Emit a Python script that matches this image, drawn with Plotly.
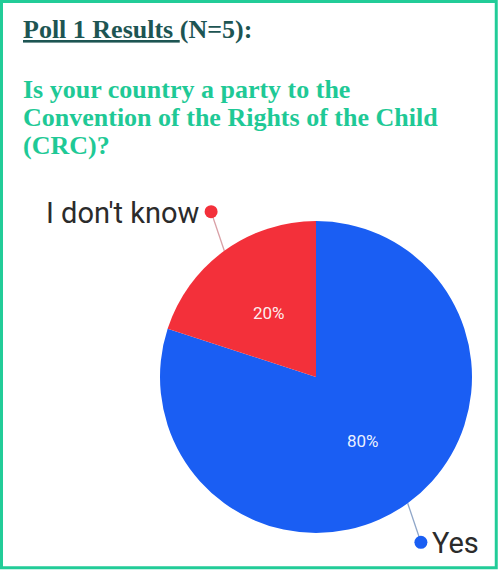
import math
import plotly.graph_objects as go

# Poll data
labels = ["Yes", "I don't know"]
values = [80, 20]
colors = ["#1a5ef3", "#f3303a"]
n_respondents = 5

title_text = "Poll 1 Results "
question_lines = [
    "Is your country a party to the",
    "Convention of the Rights of the Child",
    "(CRC)?",
]

W, H = 499, 570
# pie geometry in pixel space (x right, y down)
cx, cy, R = 316, 377, 156

fig = go.Figure()

fig.add_trace(go.Pie(
    labels=labels,
    values=values,
    sort=False,
    direction="clockwise",
    rotation=0,
    marker=dict(colors=colors, line=dict(width=0)),
    textinfo="none",
    hoverinfo="label+percent",
    showlegend=False,
    domain=dict(
        x=[(cx - R) / W, (cx + R) / W],
        y=[(H - cy - R) / H, (H - cy + R) / H],
    ),
))

# slice mid-angles (clockwise from 12 o'clock) from the data
total = sum(values)
mids, start = [], 0.0
for v in values:
    span = 360.0 * v / total
    mids.append(start + span / 2)
    start += span


def polar(angle_deg, r):
    a = math.radians(angle_deg)
    return cx + r * math.sin(a), cy - r * math.cos(a)


# percentage labels inside the slices
for v, m in zip(values, mids):
    x, y = polar(m, 0.51 * R)
    fig.add_annotation(
        x=x, y=y, xref="x", yref="y",
        text=f"{round(100 * v / total)}%", showarrow=False,
        xanchor="center", yanchor="middle",
        font=dict(family="Roboto", size=17, color="rgba(255,255,255,0.93)"),
    )

# leader lines with end dots and category labels
for lab, col, m in zip(labels, colors, mids):
    ex, ey = polar(m, R)
    # nudge the label angle toward the vertical axis
    ref = 0 if (m < 90 or m > 270) else 180
    dm = m - ref
    if dm > 180:
        dm -= 360
    la = ref + 0.9 * dm
    dx, dy = polar(la, 1.255 * R)
    fig.add_trace(go.Scatter(
        x=[ex, dx], y=[ey, dy], mode="lines",
        line=dict(color="#d9a0a6" if col == colors[1] else "#8fa6c8", width=1.3),
        hoverinfo="skip", showlegend=False,
    ))
    fig.add_trace(go.Scatter(
        x=[dx], y=[dy], mode="markers",
        marker=dict(color=col, size=13),
        hoverinfo="skip", showlegend=False,
    ))
    left_side = dx < cx
    fig.add_annotation(
        x=dx + (-9 if left_side else 9), y=dy + 1,
        xref="x", yref="y",
        text=lab, showarrow=False,
        xanchor="right" if left_side else "left", yanchor="middle",
        font=dict(family="Roboto", size=29, color="#2b2b2b"),
    )

# heading and question, one annotation per line
serif = "Liberation Serif"
fig.add_annotation(
    x=21, y=29, xref="x", yref="y",
    text=f"<b><u>{title_text}</u>(N={n_respondents}):</b>",
    showarrow=False, xanchor="left", yanchor="middle",
    font=dict(family=serif, size=26, color="#1d5553"),
)
for i, line in enumerate(question_lines):
    fig.add_annotation(
        x=21, y=89 + 28 * i, xref="x", yref="y",
        text=f"<b>{line}</b>",
        showarrow=False, xanchor="left", yanchor="middle",
        font=dict(family=serif, size=26, color="#1fc996"),
    )

# green frame
fig.add_shape(
    type="rect", xref="paper", yref="paper",
    x0=0.003, x1=0.9945, y0=0.004, y1=0.9975,
    line=dict(color="#22cc98", width=3),
)

fig.update_layout(
    width=W, height=H,
    margin=dict(l=0, r=0, t=0, b=0),
    paper_bgcolor="white", plot_bgcolor="rgba(0,0,0,0)",
    xaxis=dict(range=[0, W], visible=False, domain=[0, 1], fixedrange=True),
    yaxis=dict(range=[H, 0], visible=False, domain=[0, 1], fixedrange=True),
)

fig.write_html("out.html")
